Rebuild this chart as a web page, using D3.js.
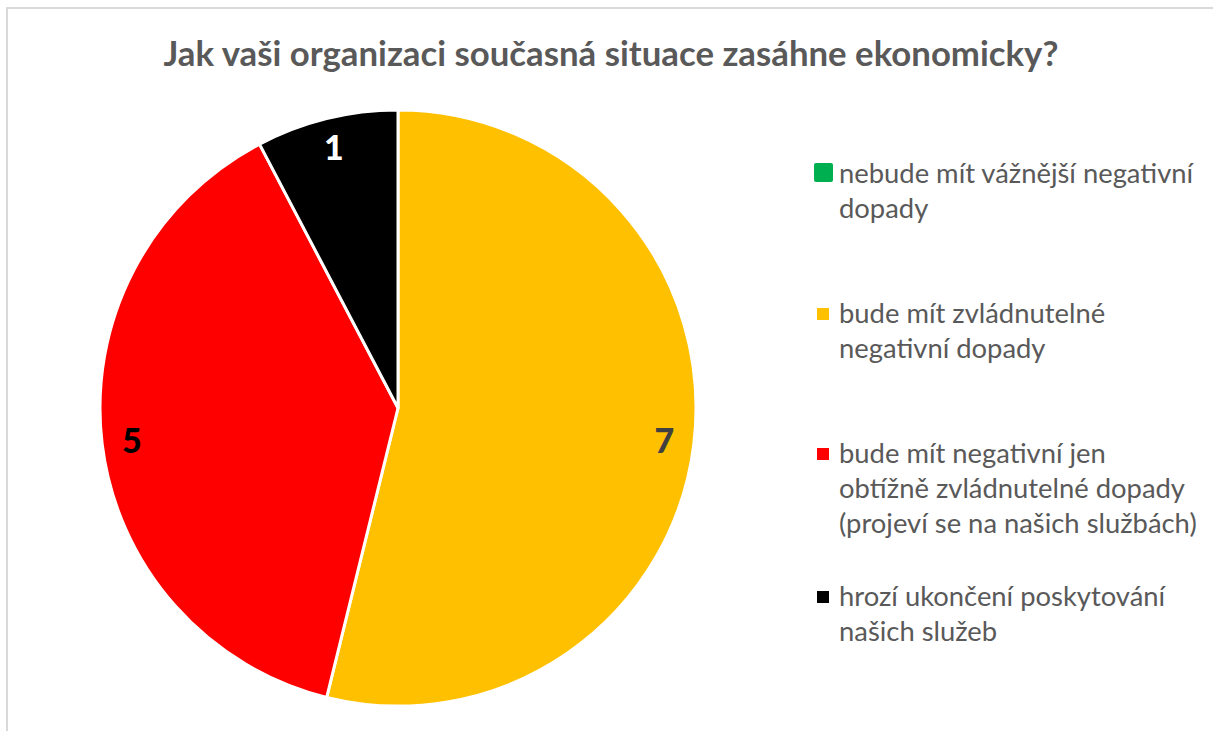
<!DOCTYPE html>
<html><head><meta charset="utf-8">
<script src="https://cdn.jsdelivr.net/npm/d3@7"></script>
<style>body{margin:0;background:#fff;} svg{display:block;}</style>
</head><body>
<svg id="chart" width="1213" height="731"></svg>
<script>
const title = "Jak vaši organizaci současná situace zasáhne ekonomicky?";
const categories = [
  ["nebude mít vážnější negativní", "dopady"],
  ["bude mít zvládnutelné", "negativní dopady"],
  ["bude mít negativní jen", "obtížně zvládnutelné dopady", "(projeví se na našich službách)"],
  ["hrozí ukončení poskytování", "našich služeb"]
];
const values = [0, 7, 5, 1];
const colors = ["#00b050", "#ffc000", "#ff0000", "#000000"];
const labelColors = ["#ffffff", "#404040", "#000000", "#ffffff"];

const svg = d3.select("#chart");
const font = "Lato, 'Open Sans', sans-serif";

svg.append("rect").attr("x", 7).attr("y", 8).attr("width", 1230).attr("height", 760)
  .attr("fill", "#fff").attr("stroke", "#d9d9d9").attr("stroke-width", 2);

const t = svg.append("text").attr("x", 611).attr("y", 66).attr("text-anchor", "middle")
  .attr("font-family", font).attr("font-weight", "bold").attr("font-size", 28)
  .attr("fill", "#595959").text(title);
const tw = t.node().getComputedTextLength();
t.attr("font-size", 28 * 895 / tw);

const cx = 398, cy = 408, r = 298;
const pie = d3.pie().sort(null).value(d => d)(values);
const arc = d3.arc().innerRadius(0).outerRadius(r);
const g = svg.append("g").attr("transform", `translate(${cx},${cy})`);
g.selectAll("path").data(pie).join("path")
  .attr("d", arc).attr("fill", (d, i) => colors[i])
  .attr("stroke", "#fff").attr("stroke-width", 3).attr("stroke-linejoin", "round");

const lab = d3.arc().innerRadius(r * 0.9).outerRadius(r * 0.9);
g.selectAll("text.lbl").data(pie.filter(d => d.value > 0)).join("text")
  .attr("class", "lbl")
  .attr("transform", d => `translate(${lab.centroid(d)})`)
  .attr("text-anchor", "middle").attr("dy", "0.36em")
  .attr("font-family", font).attr("font-weight", "900").attr("font-size", 34)
  .attr("fill", d => labelColors[d.index]).text(d => d.value);

const baselines = [183, 323, 463, 606];
const lineH = 35;
const lg = svg.append("g");
categories.forEach((lines, i) => {
  const b = baselines[i];
  if (i === 0) {
    lg.append("rect").attr("x", 814).attr("y", b - 20).attr("width", 19).attr("height", 19)
      .attr("rx", 2).attr("fill", colors[i]);
  } else {
    lg.append("rect").attr("x", 817).attr("y", b - 15).attr("width", 12).attr("height", 12)
      .attr("fill", colors[i]);
  }
  const tx = lg.append("text").attr("font-family", font).attr("font-size", 22).attr("fill", "#595959");
  lines.forEach((ln, j) => {
    tx.append("tspan").attr("x", 839).attr("y", b + j * lineH).text(ln);
  });
});
const probe = lg.selectAll("tspan").filter(function(){ return this.textContent.startsWith("(projeví"); });
const pw = probe.node().getComputedTextLength();
lg.selectAll("text").attr("font-size", 22 * 358 / pw);
</script>
</body></html>
